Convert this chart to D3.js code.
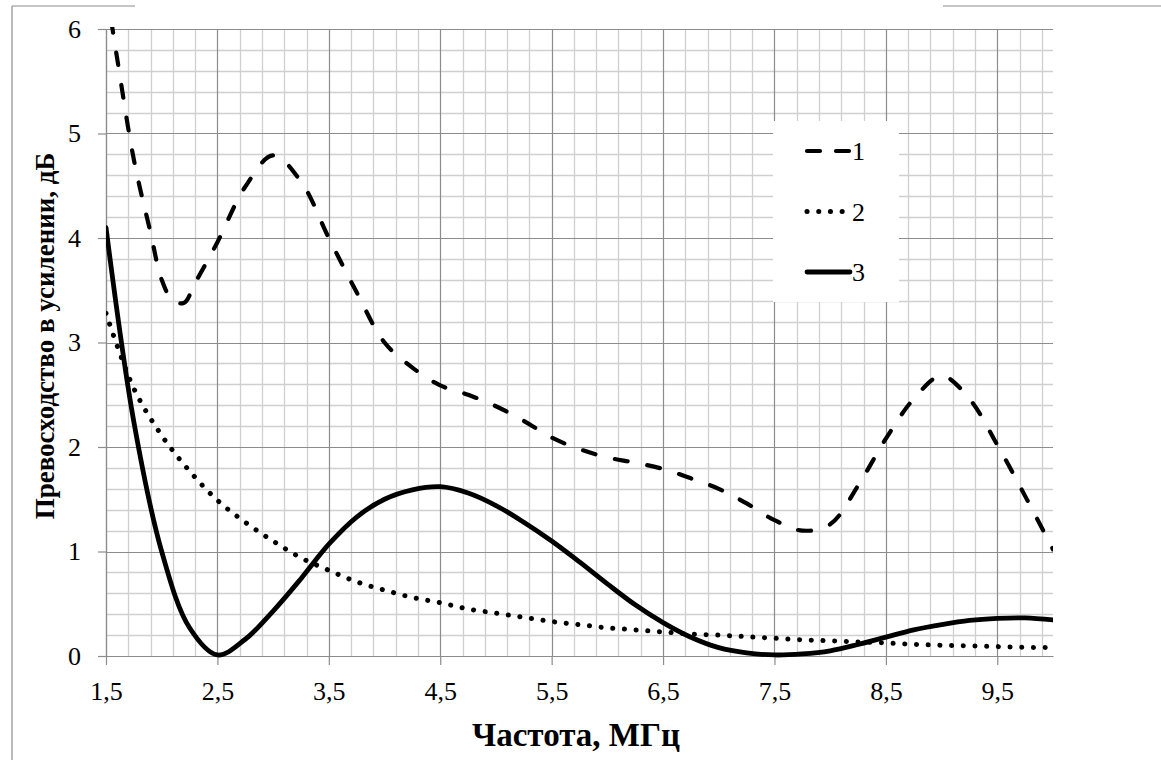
<!DOCTYPE html>
<html lang="ru">
<head>
    <meta charset="UTF-8">
    <title>Превосходство в усилении</title>
    <style>
        body { margin: 0; background: #fff; }
        svg { display: block; }
        svg text { font-family: "Liberation Serif", "Times New Roman", "DejaVu Serif", serif; fill: #000; }
        .grid-minor { stroke: #d0d0d0; stroke-width: 1.3; }
        .grid-major { stroke: #8c8c8c; stroke-width: 1.2; }
        .axis path, .axis line { stroke: #8c8c8c; stroke-width: 1.2; }
        .axis text { font-size: 26px; }
        .series { fill: none; stroke: #000; }
    </style>
</head>
<body>
    <svg id="chart" width="1161" height="760"></svg>

    <script src="https://d3js.org/d3.v7.min.js"></script>
    <script>
        // series 1 (dashed) - own frequency points, sharper dip near 2.2
        const freq1 = [1.5, 1.6, 1.75, 1.9, 2.0, 2.1, 2.2, 2.3, 2.5, 2.75, 3.0, 3.25, 3.5, 3.75, 4.0, 4.25, 4.5, 4.75,
            5.0, 5.25, 5.5, 5.75, 6.0, 6.25, 6.5, 6.75, 7.0, 7.25, 7.5, 7.75, 8.0, 8.25, 8.5, 8.75, 9.0, 9.25, 9.5, 9.75, 10.0];
        const gain1 = [6.4, 5.72, 4.75, 4.05, 3.6, 3.4, 3.38, 3.57, 3.96, 4.49, 4.79, 4.54, 4.0, 3.48, 3.0, 2.76, 2.59, 2.5,
            2.39, 2.25, 2.09, 1.98, 1.9, 1.85, 1.79, 1.7, 1.6, 1.46, 1.3, 1.2, 1.26, 1.63, 2.08, 2.46, 2.68, 2.46, 2.02, 1.53, 1.02];

        // series 2 (dotted) and 3 (solid)
        const freq = [1.5, 1.75, 2.0, 2.25, 2.5, 2.75, 3.0, 3.25, 3.5, 3.75, 4.0, 4.25, 4.5, 4.75,
            5.0, 5.25, 5.5, 5.75, 6.0, 6.25, 6.5, 6.75, 7.0, 7.25, 7.5, 7.75, 8.0, 8.25, 8.5, 8.75, 9.0, 9.25, 9.5, 9.75, 10.0];
        const gain2 = [3.28, 2.56, 2.11, 1.77, 1.49, 1.28, 1.1, 0.94, 0.82, 0.71, 0.63, 0.56, 0.51, 0.45,
            0.41, 0.37, 0.33, 0.3, 0.27, 0.25, 0.23, 0.21, 0.2, 0.185, 0.17, 0.155, 0.145, 0.135, 0.125, 0.112, 0.103, 0.097, 0.09, 0.083, 0.08];
        const gain3 = [4.1, 2.24, 1.0, 0.27, 0.01, 0.16, 0.43, 0.74, 1.07, 1.33, 1.5, 1.59, 1.62, 1.56,
            1.44, 1.28, 1.1, 0.9, 0.69, 0.49, 0.32, 0.18, 0.08, 0.03, 0.01, 0.02, 0.05, 0.11, 0.18, 0.25, 0.3, 0.34, 0.36, 0.365, 0.345];

        const xTicks = [1.5, 2.5, 3.5, 4.5, 5.5, 6.5, 7.5, 8.5, 9.5];
        const yTicks = [0, 1, 2, 3, 4, 5, 6];
        const seriesNames = ["1", "2", "3"];

        const svg = d3.select("#chart");

        const margin = { top: 29, right: 108, bottom: 104, left: 106 };
        const width = 1161 - margin.left - margin.right;
        const height = 760 - margin.top - margin.bottom;

        const x = d3.scaleLinear().domain([1.5, 10]).range([0, width]);
        const y = d3.scaleLinear().domain([0, 6]).range([height, 0]);

        // outer frame bits
        svg.append("g").attr("stroke", "#8c8c8c").attr("stroke-width", 1.2)
            .selectAll("line")
            .data([[12, 6, 135, 6], [943, 6, 1161, 6], [12, 6, 12, 760]])
            .join("line")
            .attr("x1", d => d[0]).attr("y1", d => d[1]).attr("x2", d => d[2]).attr("y2", d => d[3]);

        const g = svg.append("g").attr("transform", `translate(${margin.left},${margin.top})`);

        // grid: minor every 0.2, major on ticks
        const xMinor = d3.range(0, 43).map(i => 1.5 + i * 0.2).filter(v => v < 10);
        const yMinor = d3.range(0, 31).map(i => i * 0.2);
        const isMajorX = v => xTicks.some(t => Math.abs(t - v) < 1e-6);
        const isMajorY = v => Math.abs(v - Math.round(v)) < 1e-6;

        g.append("g").selectAll("line")
            .data(yMinor.filter(v => !isMajorY(v)))
            .join("line").attr("class", "grid-minor")
            .attr("x1", 0).attr("x2", width)
            .attr("y1", d => Math.round(y(d)) + 0.5).attr("y2", d => Math.round(y(d)) + 0.5);
        g.append("g").selectAll("line")
            .data(xMinor.filter(v => !isMajorX(v)))
            .join("line").attr("class", "grid-minor")
            .attr("y1", 0).attr("y2", height)
            .attr("x1", d => Math.round(x(d)) + 0.5).attr("x2", d => Math.round(x(d)) + 0.5);
        g.append("g").selectAll("line")
            .data(yTicks)
            .join("line").attr("class", "grid-major")
            .attr("x1", 0).attr("x2", width)
            .attr("y1", d => Math.round(y(d)) + 0.5).attr("y2", d => Math.round(y(d)) + 0.5);
        g.append("g").selectAll("line")
            .data(xTicks)
            .join("line").attr("class", "grid-major")
            .attr("y1", 0).attr("y2", height)
            .attr("x1", d => Math.round(x(d)) + 0.5).attr("x2", d => Math.round(x(d)) + 0.5);

        // axes
        g.append("g").attr("class", "axis")
            .attr("transform", `translate(0,${height})`)
            .call(d3.axisBottom(x).tickValues(xTicks).tickSize(9).tickSizeOuter(0).tickPadding(17)
                .tickFormat(d => d3.format(".1f")(d).replace(".", ",")))
            .attr("font-family", null);
        g.append("g").attr("class", "axis")
            .call(d3.axisLeft(y).tickValues(yTicks).tickSize(8).tickSizeOuter(0).tickPadding(17)
                .tickFormat(d3.format("d")))
            .attr("font-family", null);

        // legend box hides grid
        const legend = g.append("g").attr("transform", `translate(${773 - margin.left},${121 - margin.top})`);
        legend.append("rect").attr("width", 126).attr("height", 181).attr("fill", "#fff");

        // lines
        g.append("clipPath").attr("id", "plot-clip")
            .append("rect").attr("width", width).attr("height", height + 4).attr("y", -2);

        const line = d3.line()
            .x(d => x(d[0]))
            .y(d => y(d[1]))
            .curve(d3.curveCatmullRom.alpha(0.5));

        const styles = [
            { width: 4.2, dash: "13,20" },
            { width: 5, dash: "0.1,11.6" },
            { width: 4.8, dash: null }
        ];
        const seriesData = [
            d3.zip(freq1, gain1),
            d3.zip(freq, gain2),
            d3.zip(freq, gain3)
        ];

        g.append("g").attr("clip-path", "url(#plot-clip)")
            .selectAll("path")
            .data(seriesData)
            .join("path")
            .attr("class", "series")
            .attr("d", line)
            .attr("stroke-width", (d, i) => styles[i].width)
            .attr("stroke-dasharray", (d, i) => styles[i].dash)
            .attr("stroke-linecap", "round")
            .attr("stroke-linejoin", "round");

        // legend entries
        const item = legend.selectAll("g.item")
            .data(seriesNames)
            .join("g").attr("class", "item")
            .attr("transform", (d, i) => `translate(0,${30 + i * 60.5})`);
        item.append("line")
            .attr("x1", 34).attr("x2", 77)
            .attr("stroke", "#000")
            .attr("stroke-width", (d, i) => styles[i].width)
            .attr("stroke-dasharray", (d, i) => i === 0 ? "13,16" : styles[i].dash)
            .attr("stroke-linecap", "round");
        item.append("text")
            .attr("x", 79).attr("dy", "0.35em")
            .attr("font-size", 26)
            .text(d => d);

        // axis titles
        svg.append("text")
            .attr("x", 576).attr("y", 746)
            .attr("text-anchor", "middle")
            .attr("font-size", 33).attr("font-weight", "bold")
            .text("Частота, МГц");
        svg.append("text")
            .attr("transform", "translate(54,336) rotate(-90)")
            .attr("text-anchor", "middle")
            .attr("font-size", 27).attr("font-weight", "bold")
            .text("Превосходство в усилении, дБ");
    </script>
</body>
</html>
